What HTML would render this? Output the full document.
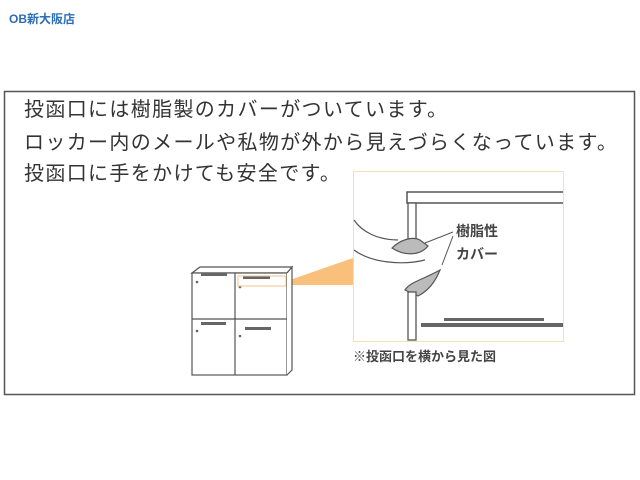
<!DOCTYPE html>
<html><head><meta charset="utf-8"><style>
body{margin:0;width:640px;height:480px;background:#fff;overflow:hidden;font-family:"Liberation Sans","Noto Sans CJK JP",sans-serif;}
</style></head><body>
<svg width="640" height="480" xmlns="http://www.w3.org/2000/svg" style="position:absolute;left:0;top:0">
<text x="9" y="23" font-size="12" font-weight="bold" fill="#2a6db5" font-family="Liberation Sans,Noto Sans CJK JP,sans-serif">OB新大阪店</text>
<rect x="4.5" y="91.5" width="630" height="303" fill="#fff" stroke="#555" stroke-width="1.5"/>
<g font-family="Liberation Sans,Noto Sans CJK JP,sans-serif" font-size="20" fill="#333" letter-spacing="1.35">
<text x="24" y="116">投函口には樹脂製のカバーがついています。</text>
<text x="24" y="149">ロッカー内のメールや私物が外から見えづらくなっています。</text>
<text x="24" y="180">投函口に手をかけても安全です。</text>
</g>
<rect x="353.5" y="171.5" width="210" height="170" fill="#fff" stroke="#f3e2b8" stroke-width="1"/>
<polygon points="287,281 353,258 353,285 287,285" fill="#f8c07a"/>
<path d="M563,192 L407,192 L407,203 L563,203" fill="none" stroke="#555" stroke-width="1.5"/>
<rect x="408" y="203" width="8" height="36" fill="#fff" stroke="#555" stroke-width="1.3"/>
<path d="M354,220 C362,232 378,240 398,240 M354,250 C370,262 400,266 425,260" fill="none" stroke="#555" stroke-width="1.2"/>
<path d="M392,248 C400,240 412,236 420,240 L428,246 C420,256 404,256 392,248 Z" fill="#bbb" stroke="#555" stroke-width="1.2"/>
<path d="M405,290 C410,282 422,280 440,270 C434,285 426,292 418,296 Z" fill="#bbb" stroke="#555" stroke-width="1.2"/>
<rect x="408" y="292" width="8" height="48" fill="#fff" stroke="#555" stroke-width="1.3"/>
<text x="456" y="236" font-size="14" font-weight="bold" fill="#444" font-family="Liberation Sans,Noto Sans CJK JP,sans-serif">樹脂性</text>
<text x="456" y="259" font-size="14" font-weight="bold" fill="#444" font-family="Liberation Sans,Noto Sans CJK JP,sans-serif">カバー</text>
<path d="M453,232 L425,243 M453,236 L442,265" stroke="#555" stroke-width="1" fill="none"/>
<rect x="444" y="318" width="100" height="3" fill="#666"/>
<rect x="421" y="323" width="142" height="4" fill="#666"/>
<text x="353" y="361" font-size="13" font-weight="bold" fill="#444" font-family="Liberation Sans,Noto Sans CJK JP,sans-serif">※投函口を横から見た図</text>
<g stroke="#555" stroke-width="1.2" fill="#fff">
<path d="M192,273 L200,267 L292,267 L287,273 Z"/>
<rect x="192" y="273" width="95" height="102"/>
<path d="M287,273 L292,267 L292,370 L287,375"/>
<line x1="235" y1="273" x2="235" y2="375"/>
<line x1="192" y1="319" x2="287" y2="319"/>
</g>
<g fill="#666">
<rect x="201" y="273" width="26" height="3"/>
<rect x="243" y="276" width="27" height="3"/>
<rect x="201" y="322" width="25" height="3"/>
<rect x="245" y="327" width="26" height="3"/>
<circle cx="197" cy="282" r="1.3"/><circle cx="240" cy="287" r="1.3"/>
<circle cx="197" cy="331" r="1.3"/><circle cx="240" cy="336" r="1.3"/>
</g>
<rect x="238" y="276" width="48" height="10" fill="none" stroke="#f3c68a" stroke-width="1"/>
</svg>
</body></html>
